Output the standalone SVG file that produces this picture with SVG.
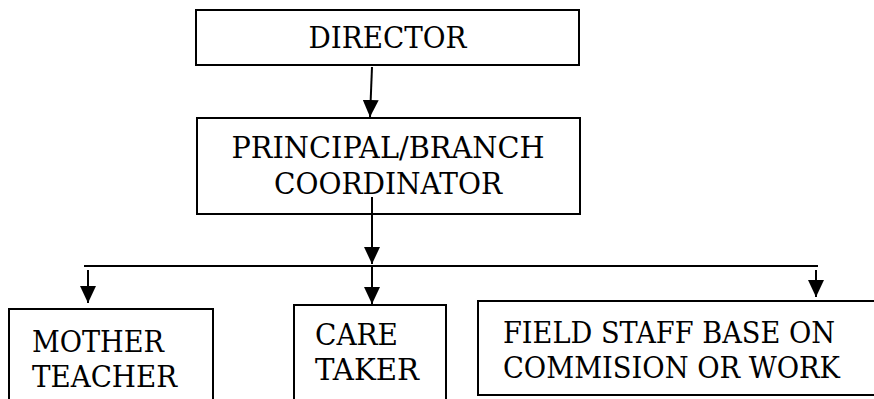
<svg xmlns="http://www.w3.org/2000/svg" width="874" height="399" viewBox="0 0 874 399">
  <style>
    .box { fill: #fff; stroke: #000; stroke-width: 2; }
    .lbl { font-family: "DejaVu Serif", "Liberation Serif", serif; font-size: 29.5px; fill: #000; }
    .ln { stroke: #000; stroke-width: 2; fill: none; }
  </style>
  <defs>
    <marker id="ah" viewBox="0 0 17 16" refX="17" refY="8" markerWidth="17" markerHeight="16" markerUnits="userSpaceOnUse" orient="auto">
      <path d="M0,0 L17,8 L0,16 Z" fill="#000"/>
    </marker>
  </defs>
  <rect width="874" height="399" fill="#fff"/>
  <g id="director">
    <rect class="box" x="196" y="10" width="383" height="55"/>
    <text class="lbl" x="387.5" y="48" text-anchor="middle" textLength="158" lengthAdjust="spacingAndGlyphs">DIRECTOR</text>
  </g>
  <g id="principal">
    <rect class="box" x="197" y="118" width="383" height="96"/>
    <text class="lbl" x="388" y="158" text-anchor="middle" textLength="313" lengthAdjust="spacingAndGlyphs">PRINCIPAL/BRANCH</text>
    <text class="lbl" x="388" y="194" text-anchor="middle" textLength="228" lengthAdjust="spacingAndGlyphs">COORDINATOR</text>
  </g>
  <g id="mother">
    <rect class="box" x="9" y="309" width="204" height="100"/>
    <text class="lbl" x="32" y="352" textLength="132" lengthAdjust="spacingAndGlyphs">MOTHER</text>
    <text class="lbl" x="32" y="387" textLength="145" lengthAdjust="spacingAndGlyphs">TEACHER</text>
  </g>
  <g id="caretaker">
    <rect class="box" x="294" y="305" width="152" height="104"/>
    <text class="lbl" x="315" y="345" textLength="83" lengthAdjust="spacingAndGlyphs">CARE</text>
    <text class="lbl" x="315" y="380" textLength="104" lengthAdjust="spacingAndGlyphs">TAKER</text>
  </g>
  <g id="fieldstaff">
    <rect class="box" x="478" y="301" width="410" height="94"/>
    <text class="lbl" x="503" y="343" textLength="332" lengthAdjust="spacingAndGlyphs">FIELD STAFF BASE ON</text>
    <text class="lbl" x="503" y="378" textLength="337" lengthAdjust="spacingAndGlyphs">COMMISION OR WORK</text>
  </g>
  <g id="connectors">
    <line class="ln" x1="372" y1="67" x2="370" y2="117" marker-end="url(#ah)"/>
    <line class="ln" x1="372" y1="197" x2="372" y2="264" marker-end="url(#ah)"/>
    <line class="ln" x1="84" y1="266" x2="818" y2="266"/>
    <line class="ln" x1="372" y1="266" x2="372" y2="304" marker-end="url(#ah)"/>
    <line class="ln" x1="88" y1="270" x2="88" y2="303" marker-end="url(#ah)"/>
    <line class="ln" x1="816" y1="270" x2="816" y2="297" marker-end="url(#ah)"/>
  </g>
</svg>
